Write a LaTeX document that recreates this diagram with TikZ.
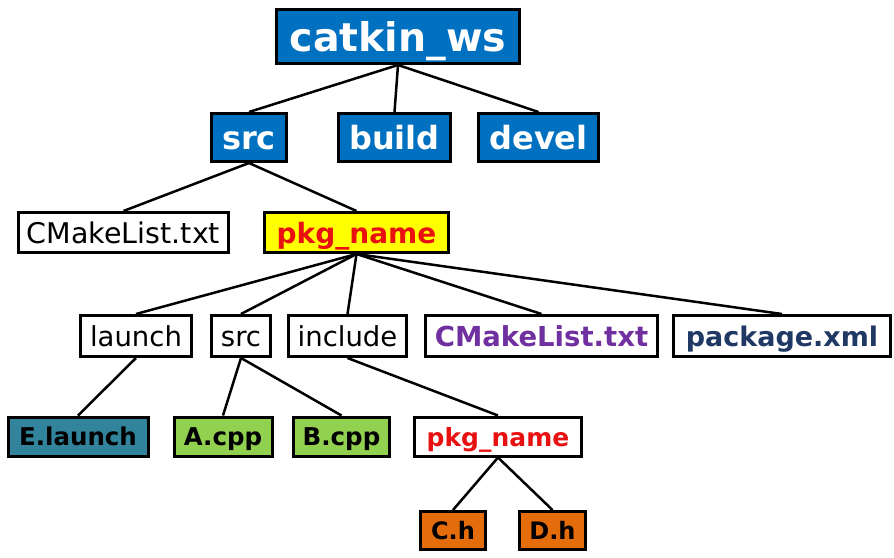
\documentclass[tikz,border=0pt]{standalone}
\usepackage{fontspec}
\setmainfont{DejaVu Sans}
\definecolor{cblue}{RGB}{0,112,192}
\definecolor{cyellow}{RGB}{255,255,0}
\definecolor{cred}{RGB}{232,16,16}
\definecolor{cpurple}{RGB}{112,48,160}
\definecolor{cnavy}{RGB}{31,56,100}
\definecolor{cteal}{RGB}{49,132,155}
\definecolor{cgreen}{RGB}{146,208,80}
\definecolor{corange}{RGB}{228,108,10}
\tikzset{
  box/.style={draw=black, line width=3pt, inner sep=0pt, align=center,
    text depth=0pt, execute at begin node={\rule{0pt}{0.73em}}},
  edge/.style={line width=2.5pt, black},
}
\newcommand{\fsz}[1]{\fontsize{#1}{#1}\selectfont}
\begin{document}
\begin{tikzpicture}[x=1pt,y=-1pt]
\useasboundingbox (0,0) rectangle (894,557);
% edges first (under boxes)
\coordinate (dummy) at (0,0);
% row 1
\node[box, fill=cblue, text=white, font=\fsz{39.5}\bfseries, minimum width=243, minimum height=54] (ws) at (398,36.5) {catkin\_ws};
% row 2
\node[box, fill=cblue, text=white, font=\fsz{32}\bfseries, minimum width=75, minimum height=48] (src) at (249,137.5) {src};
\node[box, fill=cblue, text=white, font=\fsz{32}\bfseries, minimum width=112, minimum height=48] (build) at (394.5,137.5) {build};
\node[box, fill=cblue, text=white, font=\fsz{32}\bfseries, minimum width=120, minimum height=48] (devel) at (538.5,137.5) {devel};
% row 3
\node[box, fill=white, text=black, font=\fsz{28.5}, minimum width=210, minimum height=40] (cml) at (123.5,232.5) {CMakeList.txt};
\node[box, fill=cyellow, text=cred, font=\fsz{28}\bfseries, minimum width=184, minimum height=40] (pkg) at (356.5,232.5) {pkg\_name};
% row 4
\node[box, fill=white, text=black, font=\fsz{27.5}, minimum width=111, minimum height=41] (launch) at (136,336) {launch};
\node[box, fill=white, text=black, font=\fsz{27.5}, minimum width=59, minimum height=41] (src2) at (241,336) {src};
\node[box, fill=white, text=black, font=\fsz{27.5}, minimum width=118, minimum height=41] (include) at (347.5,336) {include};
\node[box, fill=white, text=cpurple, font=\fsz{27.5}\bfseries, minimum width=232, minimum height=41] (cml2) at (541.5,336) {CMakeList.txt};
\node[box, fill=white, text=cnavy, font=\fsz{27}\bfseries, minimum width=217, minimum height=41] (pxml) at (782,336) {package.xml};
% row 5
\node[box, fill=cteal, text=black, font=\fsz{24.5}\bfseries, minimum width=140, minimum height=39] (elaunch) at (78,436.5) {E.launch};
\node[box, fill=cgreen, text=black, font=\fsz{24.5}\bfseries, minimum width=98, minimum height=39] (acpp) at (223,436.5) {A.cpp};
\node[box, fill=cgreen, text=black, font=\fsz{24.5}\bfseries, minimum width=96, minimum height=39] (bcpp) at (341.5,436.5) {B.cpp};
\node[box, fill=white, text=cred, font=\fsz{25}\bfseries, minimum width=167, minimum height=39] (pkg2) at (498,436.5) {pkg\_name};
% row 6
\node[box, fill=corange, text=black, font=\fsz{24}\bfseries, minimum width=65, minimum height=38] (ch) at (453,530.5) {C.h};
\node[box, fill=corange, text=black, font=\fsz{24}\bfseries, minimum width=66, minimum height=38] (dh) at (552.5,530.5) {D.h};
% edges
\draw[edge] (ws.south) -- (src.north);
\draw[edge] (ws.south) -- (build.north);
\draw[edge] (ws.south) -- (devel.north);
\draw[edge] (src.south) -- (cml.north);
\draw[edge] (src.south) -- (pkg.north);
\draw[edge] (pkg.south) -- (launch.north);
\draw[edge] (pkg.south) -- (src2.north);
\draw[edge] (pkg.south) -- (include.north);
\draw[edge] (pkg.south) -- (cml2.north);
\draw[edge] (pkg.south) -- (pxml.north);
\draw[edge] (launch.south) -- (elaunch.north);
\draw[edge] (src2.south) -- (acpp.north);
\draw[edge] (src2.south) -- (bcpp.north);
\draw[edge] (include.south) -- (pkg2.north);
\draw[edge] (pkg2.south) -- (ch.north);
\draw[edge] (pkg2.south) -- (dh.north);
\end{tikzpicture}
\end{document}
